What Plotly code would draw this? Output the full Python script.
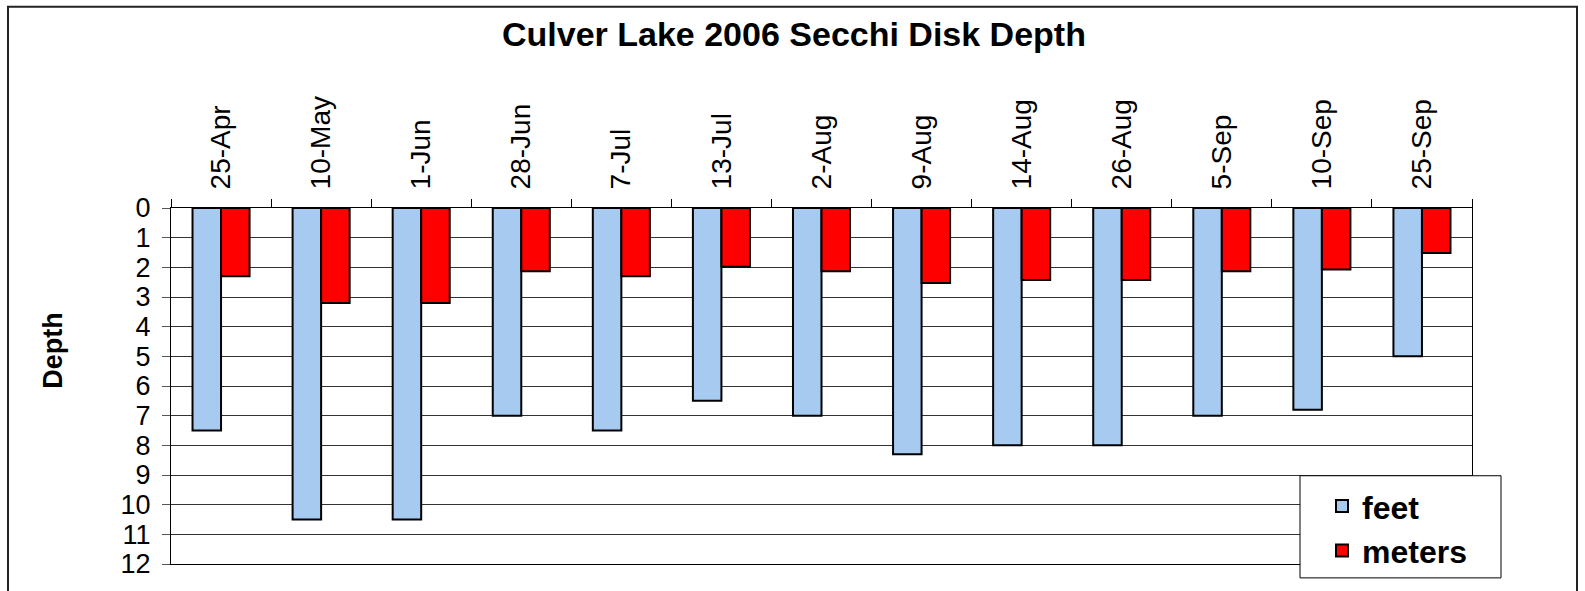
import plotly.graph_objects as go

dates = ["25-Apr", "10-May", "1-Jun", "28-Jun", "7-Jul", "13-Jul", "2-Aug",
         "9-Aug", "14-Aug", "26-Aug", "5-Sep", "10-Sep", "25-Sep"]
feet = [7.5, 10.5, 10.5, 7.0, 7.5, 6.5, 7.0, 8.3, 8.0, 8.0, 7.0, 6.8, 5.0]
meters = [2.3, 3.2, 3.2, 2.13, 2.3, 1.98, 2.13, 2.53, 2.43, 2.43, 2.13, 2.07, 1.52]
y_ticks = list(range(0, 13))

W, H = 1585, 591
L, R, T, B = 171, 1472, 208, 567  # plot area in pixels

def px(x):
    return (x - L) / (R - L)

def py(y):
    return (B - y) / (B - T)

FONT = "Liberation Sans, Arial, sans-serif"

fig = go.Figure()
fig.add_trace(go.Bar(x=dates, y=feet, name="feet",
                     marker=dict(color="#A6CAF0", line=dict(color="black", width=2))))
fig.add_trace(go.Bar(x=dates, y=meters, name="meters",
                     marker=dict(color="#FF0000", line=dict(color="black", width=2))))

fig.update_layout(
    width=W, height=H,
    margin=dict(l=L, r=W - R, t=T, b=H - B, pad=0),
    paper_bgcolor="white", plot_bgcolor="white",
    barmode="group", bargap=0.43, bargroupgap=0,
    font=dict(family=FONT, color="black"),
    showlegend=True,
    legend=dict(x=px(1322), y=py(481), xanchor="left", yanchor="top",
                bgcolor="rgba(0,0,0,0)", borderwidth=0,
                font=dict(size=32, family=FONT, weight="bold"),
                itemsizing="constant"),
    xaxis=dict(type="category", side="top", tickangle=-90,
               tickfont=dict(size=28), ticks="outside", ticklen=8,
               tickson="boundaries", tickcolor="black",
               showline=True, linecolor="black", linewidth=1, mirror=True,
               showgrid=False, ticklabelstandoff=12),
    yaxis=dict(range=[12, 0], tickmode="array", tickvals=y_ticks,
               ticktext=[str(v) for v in y_ticks],
               tickfont=dict(size=27), ticks="outside", ticklen=8,
               tickcolor="#555", showline=True, linecolor="black", linewidth=1,
               mirror=True, showgrid=True, gridcolor="#333", gridwidth=1,
               zeroline=False, ticklabelstandoff=6),
)

fig.add_annotation(text="Culver Lake 2006 Secchi Disk Depth", xref="paper", yref="paper",
                   x=px(794), y=py(33), showarrow=False, xanchor="center", yanchor="middle",
                   font=dict(size=34, family=FONT, weight="bold"))
fig.add_annotation(text="Depth", xref="paper", yref="paper",
                   x=px(53), y=py(352), showarrow=False, xanchor="center", yanchor="middle",
                   textangle=-90, font=dict(size=27, family=FONT, weight="bold"))

# outer chart border
fig.add_shape(type="rect", xref="paper", yref="paper",
              x0=px(8), x1=px(1577), y0=py(605), y1=py(5),
              line=dict(color="#222", width=2), layer="below")
# legend box
fig.add_shape(type="rect", xref="paper", yref="paper",
              x0=px(1300), x1=px(1501), y0=py(581), y1=py(478),
              fillcolor="white", line=dict(color="black", width=1), layer="above")

fig.write_html("out.html", config={"displayModeBar": False},
               post_script="document.body.style.margin='0';document.body.style.overflow='hidden';")
